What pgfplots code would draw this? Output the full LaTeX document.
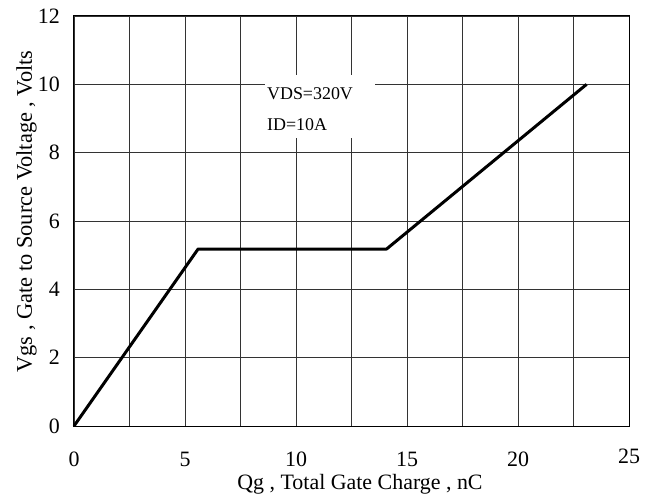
\documentclass[border=0pt]{standalone}
\usepackage{fontspec}
\setmainfont{Liberation Serif}
\usepackage{pgfplots}
\pgfplotsset{compat=1.18}
\begin{document}
\begin{tikzpicture}
\begin{axis}[
  scale only axis,
  width=555bp, height=410bp,
  xmin=0, xmax=25, ymin=0, ymax=12,
  xtick={0,5,...,25},
  xticklabels={0,5,10,15,20,\raisebox{3.5bp}[\height][\depth]{25}},
  minor xtick={2.5,7.5,...,22.5},
  ytick={0,2,...,12},
  grid=both,
  major grid style={black!80, line width=0.9bp},
  minor grid style={black!80, line width=0.9bp},
  major tick length=0pt, minor tick length=0pt,
  axis line style={black, line width=1bp},
  /pgf/number format/assume math mode=true,
  tick label style={font=\fontsize{22}{22}\selectfont},
  xticklabel style={anchor=center, inner sep=0pt, yshift=-33.5bp},
  yticklabel style={anchor=east, inner sep=0pt, xshift=-14bp},
  xlabel={Qg , Total Gate Charge , nC},
  ylabel={Vgs , Gate to Source Voltage , Volts},
  xlabel style={font=\fontsize{22}{22}\selectfont, at={(axis description cs:0.5153,-0.1537)}, anchor=base, inner sep=0pt},
  ylabel style={font=\fontsize{22.5}{22.5}\selectfont, at={(axis description cs:-0.0757,0.5232)}, anchor=base, inner sep=0pt, rotate=0},
  clip=false,
]
\fill[white] (axis cs:8.6,8.43) rectangle (axis cs:13.56,10.27);
\node[anchor=base west, inner sep=0pt, font=\fontsize{18}{18}\selectfont] at (axis cs:8.69,9.57) {VDS=320V};
\node[anchor=base west, inner sep=0pt, font=\fontsize{18}{18}\selectfont] at (axis cs:8.69,8.66) {ID=10A};
\addplot[black, line width=3bp, line join=round] coordinates {
  (0,0) (5.59,5.18) (14.08,5.18) (23.09,10.0)
};
\coordinate (ll) at (rel axis cs:0,0);
\coordinate (ur) at (rel axis cs:1,1);
\end{axis}
\pgfresetboundingbox
\path ([shift={(-74bp,-72bp)}]ll) rectangle ([shift={(30bp,16bp)}]ur);
\end{tikzpicture}
\end{document}
